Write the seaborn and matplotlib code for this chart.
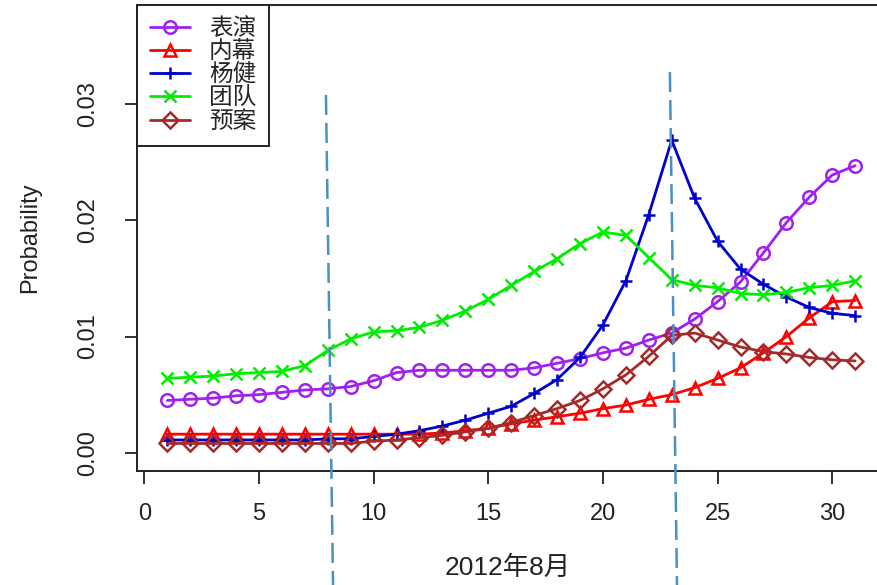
import matplotlib
matplotlib.use("Agg")
import matplotlib.pyplot as plt
import seaborn as sb

days = list(range(1, 32))

biaoyan = [0.0045, 0.0046, 0.0047, 0.0049, 0.0050, 0.0052, 0.0054, 0.0055, 0.0057, 0.0062,
           0.0069, 0.0071, 0.0071, 0.0071, 0.0071, 0.0071, 0.0073, 0.0077, 0.0081, 0.0086,
           0.0090, 0.0097, 0.0103, 0.0115, 0.0130, 0.0147, 0.0172, 0.0198, 0.0220, 0.0239, 0.0247]
neimu = [0.0016, 0.0016, 0.0016, 0.0016, 0.0016, 0.0016, 0.0016, 0.0016, 0.0016, 0.0016,
         0.0016, 0.0016, 0.0017, 0.0019, 0.0021, 0.0025, 0.0028, 0.0031, 0.0034, 0.0038,
         0.0041, 0.0046, 0.0050, 0.0056, 0.0064, 0.0073, 0.0086, 0.0100, 0.0116, 0.0130, 0.0131]
yangjian = [0.0011, 0.0011, 0.0011, 0.0011, 0.0011, 0.0011, 0.0011, 0.0012, 0.0012, 0.0014,
            0.0016, 0.0019, 0.0023, 0.0028, 0.0034, 0.0040, 0.0051, 0.0063, 0.0082, 0.0110,
            0.0148, 0.0205, 0.0269, 0.0219, 0.0182, 0.0158, 0.0145, 0.0134, 0.0125, 0.0120, 0.0118]
tuandui = [0.0064, 0.0065, 0.0066, 0.0068, 0.0069, 0.0070, 0.0075, 0.0088, 0.0098, 0.0104,
           0.0105, 0.0108, 0.0114, 0.0122, 0.0132, 0.0144, 0.0156, 0.0167, 0.0180, 0.0190,
           0.0187, 0.0168, 0.0149, 0.0144, 0.0142, 0.0137, 0.0136, 0.0138, 0.0142, 0.0144, 0.0148]
yuan = [0.0008, 0.0008, 0.0008, 0.0008, 0.0008, 0.0008, 0.0008, 0.0008, 0.0008, 0.0010,
        0.0011, 0.0013, 0.0015, 0.0018, 0.0021, 0.0026, 0.0032, 0.0038, 0.0045, 0.0055,
        0.0067, 0.0083, 0.0101, 0.0103, 0.0097, 0.0091, 0.0087, 0.0085, 0.0082, 0.0080, 0.0079]

labels = ["表演", "内幕", "杨健", "团队", "预案"]
colors = ["#a020f0", "#ff0000", "#0000cd", "#00ee00", "#a52a2a"]
markers = ["o", "^", "+", "x", "D"]
event_days = [8, 23]

sb.set_style("ticks")
plt.rcParams["font.family"] = ["Liberation Sans", "Noto Sans CJK SC", "DejaVu Sans"]

fig = plt.figure(figsize=(8.77, 5.85), dpi=100)
ax = fig.add_axes([137 / 877, 114 / 585, 742 / 877, 466 / 585])

series = [biaoyan, neimu, yangjian, tuandui, yuan]
for vals, lab, col, mk in zip(series, labels, colors, markers):
    open_mk = mk in ("o", "^", "D")
    sb.lineplot(x=days, y=vals, ax=ax, color=col, lw=2, marker=mk,
                markersize=9 if mk != "D" else 8,
                markerfacecolor="none" if open_mk else col,
                markeredgecolor=col, markeredgewidth=1.8, label=lab)

# dashed event markers, slightly leaning like the original
tops = [0.807, 0.856]
for d, top in zip(event_days, tops):
    ax.plot([d - 0.08, d + 0.23], [top, -0.245], transform=ax.get_xaxis_transform(),
            color="#4a90c2", lw=1.8, dashes=(8, 3.2), clip_on=False, zorder=5)

ax.set_xlim(-0.32, 32.04)
ax.set_ylim(-0.00157, 0.03853)
ax.set_xticks([0, 5, 10, 15, 20, 25, 30])
ax.set_yticks([0.0, 0.01, 0.02, 0.03])
ax.set_yticklabels(["0.00", "0.01", "0.02", "0.03"], rotation=90, va="center")
ax.tick_params(axis="both", direction="out", length=9, width=1.3, colors="#222222",
               labelsize=17)
ax.tick_params(axis="x", pad=14)
ax.tick_params(axis="y", pad=18)
for s in ax.spines.values():
    s.set_color("#222222")
    s.set_linewidth(1.4)

ax.set_xlabel("2012年8月", fontsize=19, labelpad=22, color="#222222")
ax.set_ylabel("Probability", fontsize=17, labelpad=26, color="#222222")

leg = ax.legend(loc="upper left", bbox_to_anchor=(0, 1), borderaxespad=0,
                fancybox=False, edgecolor="#222222", fontsize=17,
                handlelength=1.7, handletextpad=0.8, labelspacing=0.05,
                borderpad=0.55, framealpha=1)
leg.get_frame().set_linewidth(1.4)

fig.savefig("out.png", dpi=100)
